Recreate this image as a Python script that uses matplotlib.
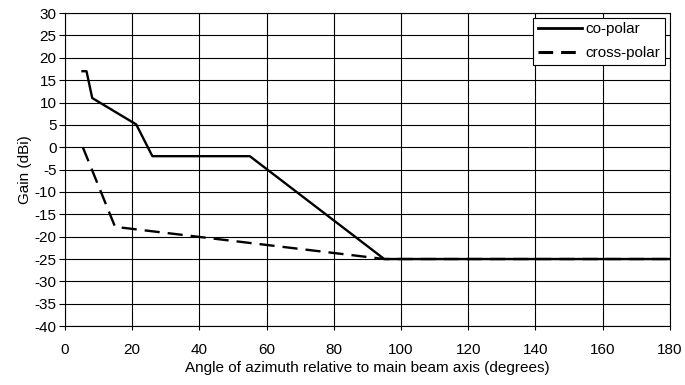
import matplotlib
matplotlib.use("Agg")
import matplotlib.pyplot as plt

co_x = [5.2, 6.4, 8.1, 21.2, 26, 55, 95, 180]
co_y = [17, 17, 11, 5.1, -2, -2, -25, -25]
cross_x = [5.3, 14.9, 95, 180]
cross_y = [0, -17.8, -25, -25]
xticks = list(range(0, 181, 20))
yticks = list(range(-40, 31, 5))

plt.rcParams['font.family'] = ['Liberation Sans', 'DejaVu Sans']
plt.rcParams['axes.unicode_minus'] = False
fig = plt.figure(figsize=(6.85, 3.85), dpi=100)
ax = fig.add_axes([0.0949, 0.153, 0.883, 0.813])
ax.plot(cross_x, cross_y, color='black', lw=1.7, dashes=(6.4, 3.4), label='cross-polar', zorder=2)
ax.plot(co_x, co_y, color='black', lw=1.7, label='co-polar', zorder=3)
ax.set_xlim(0, 180)
ax.set_ylim(-40, 30)
ax.set_xticks(xticks)
ax.set_yticks(yticks)
ax.grid(True, color='black', lw=0.8)
ax.set_axisbelow(True)
for s in ax.spines.values():
    s.set_color('black')
    s.set_linewidth(0.8)
ax.tick_params(labelsize=11, width=0.8, direction='out')
ax.tick_params(axis='y', length=4, pad=2)
ax.tick_params(axis='x', length=3, pad=9)
ax.set_xlabel('Angle of azimuth relative to main beam axis (degrees)', fontsize=11, labelpad=3)
ax.set_ylabel('Gain (dBi)', fontsize=11, labelpad=2)
handles, labels = ax.get_legend_handles_labels()
leg = ax.legend(handles[::-1], labels[::-1], loc='upper right', fontsize=11, frameon=True,
                fancybox=False, edgecolor='black', framealpha=1, handlelength=2.9,
                borderpad=0.3, labelspacing=0.65, handletextpad=0.2,
                borderaxespad=0, bbox_to_anchor=(0.9915, 0.985))
leg.set_zorder(5)
leg.get_frame().set_linewidth(0.8)
hl = leg.get_lines()
hl[0].set_linewidth(2.0)
hl[1].set_linewidth(2.2)
hl[1].set_dashes((4.8, 2.6))
fig.savefig('out.png', dpi=100)
